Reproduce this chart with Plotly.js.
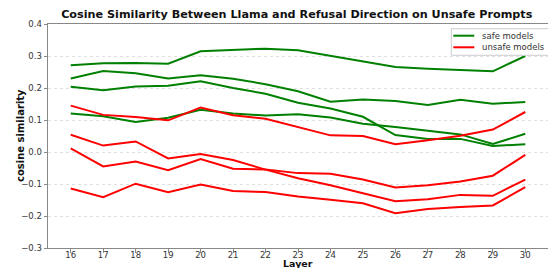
<!DOCTYPE html>
<html>
<head>
<meta charset="utf-8">
<script src="https://cdn.plot.ly/plotly-3.0.1.min.js"></script>
<style>html,body{margin:0;padding:0;background:#fff;}#chart{width:548px;height:268px;}</style>
</head>
<body>
<div id="chart"></div>
<script>
const layers = [16,17,18,19,20,21,22,23,24,25,26,27,28,29,30];

const safe1 = [0.271,0.277,0.278,0.276,0.315,0.319,0.323,0.318,0.301,0.283,0.266,0.260,0.257,0.252,0.300];
const safe2 = [0.230,0.253,0.246,0.230,0.240,0.229,0.212,0.190,0.157,0.164,0.159,0.147,0.163,0.151,0.156];
const safe3 = [0.204,0.193,0.205,0.207,0.221,0.200,0.182,0.154,0.136,0.110,0.053,0.041,0.041,0.019,0.024];
const safe4 = [0.120,0.112,0.094,0.107,0.132,0.120,0.114,0.118,0.108,0.088,0.078,0.067,0.055,0.025,0.057];

const unsafe1 = [0.145,0.116,0.109,0.099,0.139,0.115,0.104,0.079,0.052,0.050,0.024,0.037,0.051,0.070,0.125];
const unsafe2 = [0.054,0.020,0.033,-0.020,-0.006,-0.025,-0.055,-0.082,-0.104,-0.128,-0.154,-0.148,-0.134,-0.137,-0.086];
const unsafe3 = [0.011,-0.045,-0.030,-0.057,-0.022,-0.052,-0.055,-0.066,-0.068,-0.086,-0.111,-0.104,-0.092,-0.074,-0.009];
const unsafe4 = [-0.114,-0.141,-0.099,-0.126,-0.102,-0.122,-0.125,-0.139,-0.149,-0.160,-0.191,-0.178,-0.172,-0.167,-0.110];

const yTicks = [-0.3,-0.2,-0.1,0.0,0.1,0.2,0.3,0.4];
const legendNames = ['safe models', 'unsafe models'];
const legendColors = ['#008000', '#ff0000'];

const safeSeries = [safe1, safe2, safe3, safe4];
const unsafeSeries = [unsafe1, unsafe2, unsafe3, unsafe4];

const FONT = 'DejaVu Sans, sans-serif';
const traces = [];
safeSeries.forEach((s, i) => traces.push({
  x: layers, y: s, type: 'scatter', mode: 'lines',
  line: {color: legendColors[0], width: 2},
  name: legendNames[0], showlegend: false
}));
unsafeSeries.forEach((s, i) => traces.push({
  x: layers, y: s, type: 'scatter', mode: 'lines',
  line: {color: legendColors[1], width: 2},
  name: legendNames[1], showlegend: false
}));

// custom legend (matplotlib-style box in the upper right)
const legY = [0.9478, 0.896];
const shapes = [{
  type: 'rect', xref: 'paper', yref: 'paper', layer: 'above',
  x0: 0.8066, x1: 1.02, y0: 0.8603, y1: 0.979,
  fillcolor: 'rgba(255,255,255,0.85)', line: {color: '#cccccc', width: 1}
}];
const annotations = [];
legendNames.forEach((n, i) => {
  shapes.push({
    type: 'line', xref: 'paper', yref: 'paper', layer: 'above',
    x0: 0.8106, x1: 0.8526, y0: legY[i], y1: legY[i],
    line: {color: legendColors[i], width: 2}
  });
  annotations.push({
    xref: 'paper', yref: 'paper', x: 0.8646, y: legY[i],
    xanchor: 'left', yanchor: 'middle', showarrow: false,
    text: n, font: {family: FONT, size: 8.5, color: '#333'}
  });
});
// axis titles
annotations.push({
  xref: 'paper', yref: 'paper', x: 0.5, y: 0, yshift: -15.5,
  xanchor: 'center', yanchor: 'middle', showarrow: false, borderpad: 0,
  text: '<b>Layer</b>', font: {family: FONT, size: 9.5, color: '#111'}
});
annotations.push({
  xref: 'paper', yref: 'paper', x: 0, xshift: -28, y: 0.5,
  xanchor: 'center', yanchor: 'middle', showarrow: false, textangle: -90,
  text: '<b>cosine similarity</b>', font: {family: FONT, size: 10, color: '#111'}
});

const layout = {
  width: 548, height: 268,
  margin: {l: 48, r: 0, t: 24, b: 20, pad: 0},
  paper_bgcolor: '#fff', plot_bgcolor: '#fff',
  font: {family: FONT, size: 8.5, color: '#333'},
  title: {
    text: '<b>Cosine Similarity Between Llama and Refusal Direction on Unsafe Prompts</b>',
    font: {family: FONT, size: 11.2, color: '#111'},
    x: 0.5415, xanchor: 'center', y: 0.949, yanchor: 'middle'
  },
  showlegend: false,
  shapes: shapes,
  annotations: annotations,
  xaxis: {
    range: [15.3, 30.7],
    tickmode: 'array', tickvals: layers, ticktext: layers.map(String),
    ticks: 'outside', ticklen: 3.5, tickcolor: '#888', tickwidth: 1,
    ticklabelstandoff: -5,
    showline: true, linecolor: '#888', linewidth: 1, mirror: true,
    showgrid: false, zeroline: false,
    tickfont: {family: FONT, size: 8.5, color: '#333'},
    automargin: false
  },
  yaxis: {
    range: [-0.3, 0.4],
    tickmode: 'array', tickvals: yTicks, ticktext: yTicks.map(v => v.toFixed(1).replace('-', '\u2212')),
    ticks: 'outside', ticklen: 3.5, tickcolor: '#888', tickwidth: 1,
    showline: true, linecolor: '#888', linewidth: 1, mirror: true,
    showgrid: true, gridcolor: '#d8d8d8', griddash: 'dot', gridwidth: 0.8,
    zeroline: false,
    tickfont: {family: FONT, size: 8.5, color: '#333'},
    automargin: false
  }
};

Plotly.newPlot('chart', traces, layout, {displayModeBar: false, staticPlot: true});
</script>
</body>
</html>
